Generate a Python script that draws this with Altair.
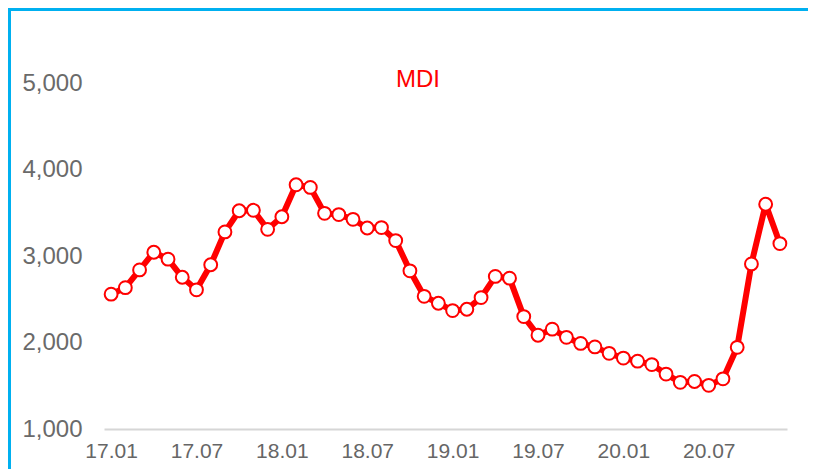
import altair as alt
import pandas as pd

TITLE = "MDI"
YEARS = [17, 18, 19, 20]
MONTH_NUMS = list(range(1, 13))
MONTHS = [f"{y:02d}.{m:02d}" for y in YEARS for m in MONTH_NUMS]
VALUES = [2560, 2635, 2840, 3045, 2965, 2755, 2610, 2900, 3280, 3525, 3530, 3310,
          3455, 3825, 3795, 3495, 3480, 3425, 3325, 3330, 3180, 2830, 2535, 2455,
          2370, 2385, 2520, 2765, 2745, 2300, 2085, 2155, 2060, 1990, 1950, 1875,
          1820, 1785, 1745, 1635, 1540, 1550, 1505, 1580, 1945, 2910, 3600, 3145]
X_TICKS = ["17.01", "17.07", "18.01", "18.07", "19.01", "19.07", "20.01", "20.07"]
Y_TICKS = [1000, 2000, 3000, 4000, 5000]

df = pd.DataFrame({"month": MONTHS, "value": VALUES})

FONT = "Liberation Sans"
RED = "#ff0000"
BLUE = "#00b0f0"

x_enc = alt.X("month:N", sort=MONTHS,
              scale=alt.Scale(paddingOuter=0.42, paddingInner=0),
              axis=alt.Axis(values=X_TICKS, labelAngle=0, ticks=False,
                            domainColor="#d6d6d6", domainWidth=2,
                            labelFontSize=21, labelColor="#666666",
                            labelFont=FONT, labelPadding=11, title=None,
                            grid=False))
y_enc = alt.Y("value:Q", scale=alt.Scale(domain=[1000, 5500], nice=False, zero=False),
              axis=alt.Axis(values=Y_TICKS, format=",.0f", ticks=False, domain=False,
                            grid=False, labelFontSize=24, labelColor="#6a6a6a",
                            labelFont=FONT, labelPadding=22, title=None))

base = alt.Chart(df)
line = base.mark_line(color=RED, strokeWidth=6, strokeJoin="round").encode(x=x_enc, y=y_enc)
points = base.mark_point(filled=True, fill="white", stroke=RED, strokeWidth=2,
                         size=165, opacity=1).encode(x=x_enc, y=y_enc)

one = alt.Data(values=[{"k": 1}])
title = alt.Chart(one).mark_text(text=TITLE, color=RED, fontSize=24, font=FONT,
                                 align="center", baseline="middle").encode(
    x=alt.value(314), y=alt.value(40))
left_border = alt.Chart(one).mark_rule(color=BLUE, strokeWidth=3).encode(
    x=alt.value(-94.5), y=alt.value(-32), y2=alt.value(430))
top_border = alt.Chart(one).mark_rule(color=BLUE, strokeWidth=3).encode(
    x=alt.value(-96), x2=alt.value(704), y=alt.value(-30.5))

chart = alt.layer(line, points, title, left_border, top_border).properties(
    width=683, height=389,
    autosize=alt.AutoSizeParams(type="none"),
    padding={"left": 96, "top": 32, "right": 21, "bottom": 40},
    background="white",
).configure_view(stroke=None)

chart.save("out.html", embed_options={"renderer": "svg", "actions": False})
